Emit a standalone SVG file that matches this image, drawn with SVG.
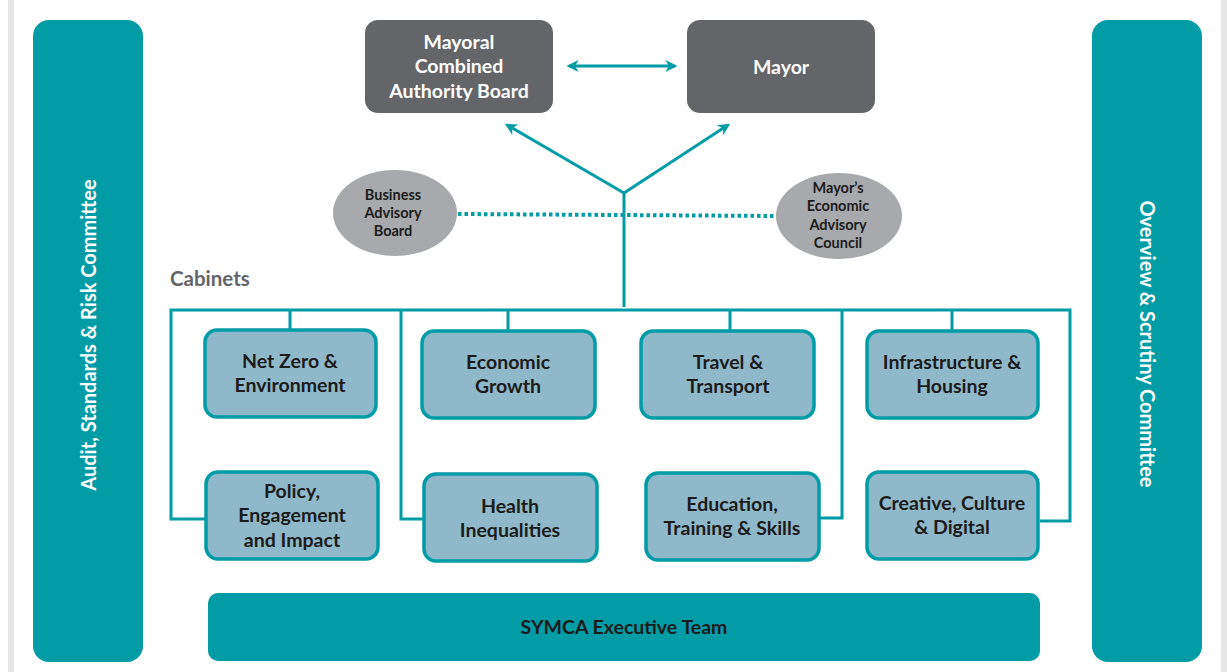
<svg xmlns="http://www.w3.org/2000/svg" width="1227" height="672" viewBox="0 0 1227 672">
<style>
.t{font-family:Lato,"Open Sans","Liberation Sans",sans-serif;font-weight:bold;text-anchor:middle}
.cab{fill:#8fb9ca;stroke:#019ca6;stroke-width:3.5}
.ct{font-size:19.5px;fill:#1b1b1b}
.ln{fill:none;stroke:#019ca6;stroke-width:3}
.bar{fill:#019ca6}
.dk{fill:#636569}
.el{fill:#a7a9ac}
.et{font-size:14.5px;fill:#1b1b1b}
.wt{fill:#ffffff;font-size:19.5px}
</style>
<defs>
<marker id="ah" viewBox="0 0 10 10" refX="8" refY="5" markerWidth="4" markerHeight="4" orient="auto-start-reverse" markerUnits="strokeWidth">
<path d="M0,0 L10,5 L0,10 L3,5 z" fill="#019ca6"/>
</marker>
</defs>
<rect x="0" y="0" width="1227" height="672" fill="#ffffff"/>
<rect x="8" y="0" width="6" height="672" fill="#e6e6e6"/>
<rect x="1221" y="0" width="6" height="672" fill="#e6e6e6"/>

<g id="audit">
<rect class="bar" x="33" y="20" width="110" height="642" rx="16"/>
<text class="t" x="0" y="0" font-size="20" fill="#ffffff" transform="translate(96,335) rotate(-90)">Audit, Standards  &amp; Risk Committee</text>
</g>
<g id="overview">
<rect class="bar" x="1092" y="20" width="110" height="642" rx="16"/>
<text class="t" x="0" y="0" font-size="20" fill="#ffffff" transform="translate(1140,344) rotate(90)">Overview &amp; Scrutiny Committee</text>
</g>

<g id="connectors">
<line class="ln" x1="569" y1="66" x2="675" y2="66" stroke-width="3.5" marker-start="url(#ah)" marker-end="url(#ah)"/>
<polyline class="ln" points="624,307 624,193"/>
<line class="ln" x1="624" y1="193" x2="507" y2="125" stroke-width="3.5" marker-end="url(#ah)"/>
<line class="ln" x1="624" y1="193" x2="728" y2="125" stroke-width="3.5" marker-end="url(#ah)"/>
<line x1="458" y1="214" x2="777" y2="216" stroke="#019ca6" stroke-width="4" stroke-dasharray="3.5,3"/>
<polyline class="ln" points="205,519 171,519 171,310 1070,310 1070,521 1040,521"/>
<polyline class="ln" points="424,519 401,519 401,310"/>
<polyline class="ln" points="819,518 842,518 842,310"/>
<line class="ln" x1="290" y1="310" x2="290" y2="329"/>
<line class="ln" x1="508" y1="310" x2="508" y2="331"/>
<line class="ln" x1="730" y1="310" x2="730" y2="330"/>
<line class="ln" x1="952" y1="310" x2="952" y2="330"/>
</g>

<g id="mcab">
<rect class="dk" x="365" y="20" width="188" height="93" rx="13"/>
<text class="t wt" x="459" y="49">Mayoral</text>
<text class="t wt" x="459" y="73">Combined</text>
<text class="t wt" x="459" y="98">Authority Board</text>
</g>
<g id="mayor">
<rect class="dk" x="687" y="20" width="188" height="93" rx="13"/>
<text class="t wt" x="781" y="74">Mayor</text>
</g>

<g id="bab">
<ellipse class="el" cx="395" cy="213" rx="62" ry="43"/>
<text class="t et" x="393" y="200">Business</text>
<text class="t et" x="393" y="218">Advisory</text>
<text class="t et" x="393" y="236">Board</text>
</g>
<g id="meac">
<ellipse class="el" cx="839" cy="216" rx="63" ry="43"/>
<text class="t et" x="838" y="193">Mayor’s</text>
<text class="t et" x="838" y="211">Economic</text>
<text class="t et" x="838" y="230">Advisory</text>
<text class="t et" x="838" y="248">Council</text>
</g>

<text x="170" y="286" font-family="Lato,'Open Sans','Liberation Sans',sans-serif" font-weight="bold" font-size="20.5" fill="#636569">Cabinets</text>

<g id="netzero">
<rect class="cab" x="205" y="330" width="171" height="87" rx="12"/>
<text class="t ct" x="290" y="368">Net Zero &amp;</text>
<text class="t ct" x="290" y="392">Environment</text>
</g>
<g id="policy">
<rect class="cab" x="206" y="472" width="172" height="87" rx="12"/>
<text class="t ct" x="292" y="498">Policy,</text>
<text class="t ct" x="292" y="522">Engagement</text>
<text class="t ct" x="292" y="547">and Impact</text>
</g>
<g id="econ">
<rect class="cab" x="422" y="331" width="173" height="87" rx="12"/>
<text class="t ct" x="508" y="369">Economic</text>
<text class="t ct" x="508" y="393">Growth</text>
</g>
<g id="health">
<rect class="cab" x="424" y="474" width="173" height="87" rx="12"/>
<text class="t ct" x="510" y="513">Health</text>
<text class="t ct" x="510" y="537">Inequalities</text>
</g>
<g id="travel">
<rect class="cab" x="641" y="331" width="173" height="87" rx="12"/>
<text class="t ct" x="728" y="369">Travel &amp;</text>
<text class="t ct" x="728" y="393">Transport</text>
</g>
<g id="edu">
<rect class="cab" x="646" y="473" width="173" height="87" rx="12"/>
<text class="t ct" x="732" y="511">Education,</text>
<text class="t ct" x="732" y="535">Training &amp; Skills</text>
</g>
<g id="infra">
<rect class="cab" x="867" y="331" width="171" height="87" rx="12"/>
<text class="t ct" x="952" y="369">Infrastructure &amp;</text>
<text class="t ct" x="952" y="393">Housing</text>
</g>
<g id="creative">
<rect class="cab" x="867" y="472" width="171" height="87" rx="12"/>
<text class="t ct" x="952" y="510">Creative, Culture</text>
<text class="t ct" x="952" y="534">&amp; Digital</text>
</g>

<g id="exec">
<rect class="bar" x="208" y="593" width="832" height="68" rx="10"/>
<text class="t ct" x="624" y="634">SYMCA Executive Team</text>
</g>
</svg>
